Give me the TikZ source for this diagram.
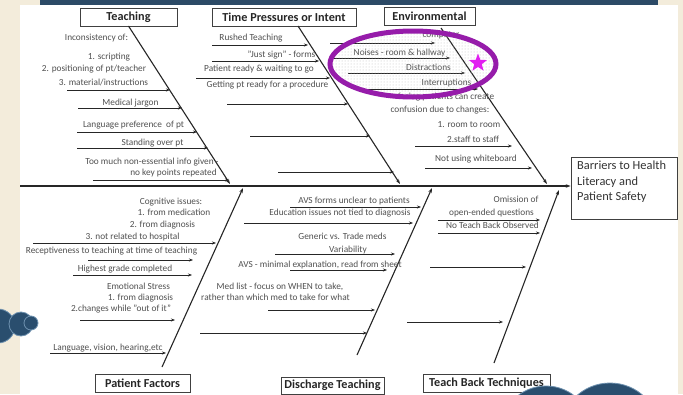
\documentclass[tikz,border=0pt]{standalone}
\usepackage{fontspec}
\setmainfont{Carlito}
\usetikzlibrary{arrows.meta,patterns,shapes.geometric}
\definecolor{bgbeige}{RGB}{243,236,219}
\definecolor{barblue}{RGB}{44,74,102}
\definecolor{circblue}{RGB}{42,78,110}
\definecolor{circrim}{RGB}{110,145,175}
\definecolor{txtgray}{RGB}{80,80,80}
\definecolor{ringpurple}{RGB}{150,28,170}
\definecolor{starpink}{RGB}{225,30,240}
\begin{document}
\begin{tikzpicture}[x=1pt,y=-1pt,
  catbox/.style={draw=black!75, line width=0.8pt, fill=white, font=\bfseries\fontsize{12.2}{14}\selectfont, text=black!85, inner sep=0pt},
  lbl/.style={font=\fontsize{9.3}{10}\selectfont, text=txtgray, inner sep=0pt, anchor=mid},
  arr/.style={draw=black!85, line width=0.6pt, -{Stealth[length=4pt,width=3pt]}},
  bone/.style={draw=black!85, line width=1.1pt, -{Stealth[length=5pt,width=3.5pt]}},
  deco/.style={fill=circblue, draw=circrim, line width=0.8pt}]
\useasboundingbox (0,0) rectangle (683,394);
\clip (0,0) rectangle (683,394);
% background
\fill[bgbeige] (0,0) rectangle (683,394);
\fill[white] (20,5) rectangle (678,394);
\fill[barblue] (40,0) rectangle (658,5);

% category boxes
\node[catbox, minimum width=97pt, minimum height=18pt] (teach) at (128.5,17) {Teaching};
\node[catbox, minimum width=144pt, minimum height=18pt] (time) at (284,17) {Time Pressures or Intent};
\node[catbox, minimum width=91pt, minimum height=18pt] (env) at (429.5,16) {Environmental};
\node[catbox, minimum width=95pt, minimum height=18pt] (pat) at (142.5,383) {Patient Factors};
\node[catbox, minimum width=103pt, minimum height=17pt] (dis) at (332.5,385.5) {Discharge Teaching};
\node[catbox, minimum width=127pt, minimum height=18pt] (tbk) at (486.5,383) {Teach Back Techniques};

% head box
\node[draw=black!75, line width=0.8pt, fill=white, minimum width=106pt, minimum height=62pt, inner sep=0pt] (head) at (624,188) {};
\node[font=\fontsize{12.4}{15.5}\selectfont, text=black!80, align=left, inner sep=0pt, anchor=north west] (headtxt) at (577,161) {Barriers to Health\\Literacy and\\Patient Safety};

% spine and bones
\coordinate (spL) at (20,186);
\draw[bone, line width=1.3pt] (spL) -- (spL -| head.west);
\coordinate (tbA) at (128.5,26); \coordinate (tbB) at (230,184);
\coordinate (tpA) at (298,26);   \coordinate (tpB) at (400,184);
\coordinate (evA) at (441,28);   \coordinate (evB) at (547,184);
\coordinate (pfA) at (162,367);  \coordinate (pfB) at (243,188);
\coordinate (dtA) at (357,355);  \coordinate (dtB) at (432,188);
\coordinate (tkA) at (494,363);  \coordinate (tkB) at (559,190);
\draw[bone] (tbA) -- (tbB);
\draw[bone] (tpA) -- (tpB);
\draw[bone] (evA) -- (evB);
\draw[bone] (pfA) -- (pfB);
\draw[bone] (dtA) -- (dtB);
\draw[bone] (tkA) -- (tkB);

% Teaching
\node[lbl] (a1) at (96.5,38) {Inconsistency of:};
\node[lbl] (a2) at (109,57) {1. scripting};
\node[lbl] (a3) at (94,69) {2. positioning of pt/teacher};
\node[lbl] (a4) at (103.5,83) {3. material/instructions};
\node[lbl] (a5) at (130.5,103) {Medical jargon};
\node[lbl] (a6) at (133.5,125) {Language preference \ of pt};
\node[lbl] (a7) at (152.5,143) {Standing over pt};
\node[lbl] (a8) at (152,162) {Too much non-essential info given -};
\node[lbl] (a9) at (173.5,173) {no key points repeated};
\draw[arr] (67,90) -- (170,90);
\draw[arr] (78,108) -- (182,108);
\draw[arr] (77,132) -- (197,132);
\draw[arr] (77,148) -- (208,148);
\draw[arr] (93,180) -- (229,180);

% Time pressures
\node[lbl] (b1) at (251,38) {Rushed Teaching};
\node[lbl] (b2) at (281.5,55) {"Just sign" - forms};
\node[lbl] (b3) at (259,69) {Patient ready \& waiting to go};
\node[lbl] (b4) at (267.5,85) {Getting pt ready for a procedure};
\draw[arr] (212,45) -- (308,45);
\draw[arr] (212,61) -- (319,61);
\draw[arr] (196,78) -- (330,78);
\draw[arr] (227,104) -- (348,104);
\draw[arr] (250,136) -- (370,136);
\draw[arr] (278,172) -- (394,172);

% Environmental
\node[lbl] (c0) at (441,35) {computer};
\node[lbl] (c1) at (399.5,53) {Noises - room \& hallway};
\node[lbl] (c2) at (428.5,68) {Distractions};
\node[lbl] (c3) at (446.5,83) {Interruptions};
\node[lbl] (c4) at (446,97) {facing patients can create};
\node[lbl] (c5) at (440,110) {confusion due to changes:};
\node[lbl] (c6) at (469,125) {1. room to room};
\node[lbl] (c7) at (473,140) {2.staff to staff};
\node[lbl] (c8) at (476,159) {Not using whiteboard};
\draw[arr] (330,43) -- (435,43);
\draw[arr] (332,58) -- (450,58);
\draw[arr] (348,73) -- (465,73);
\draw[arr] (362,89) -- (478,89);
\draw[arr] (415,146) -- (512,146);
\draw[arr] (425,168) -- (532,168);

% Patient factors
\node[lbl] (d1) at (171,202) {Cognitive issues:};
\node[lbl] (d2) at (174,213) {1. from medication};
\node[lbl] (d3) at (162.5,225) {2. from diagnosis};
\node[lbl] (d4) at (132.5,237) {3. not related to hospital};
\node[lbl] (d5) at (111.5,251) {Receptiveness to teaching at time of teaching};
\node[lbl] (d6) at (125,269) {Highest grade completed};
\node[lbl] (d7) at (138.5,287) {Emotional Stress};
\node[lbl] (d8) at (140.5,298) {1. from diagnosis};
\node[lbl] (d9) at (121,309) {2.changes while "out of it"};
\node[lbl] (d10) at (108,348) {Language, vision, hearing,etc};
\draw[arr] (33,243) -- (216,243);
\draw[arr] (88,260) -- (193,260);
\draw[arr] (73,275) -- (192,275);
\draw[arr] (80,320) -- (175,320);
\draw[arr] (50,353) -- (166,353);

% Discharge teaching
\node[lbl] (e1) at (354,201) {AVS forms unclear to patients};
\node[lbl] (e2) at (340,213) {Education issues not tied to diagnosis};
\node[lbl] (e3) at (342.5,237) {Generic vs. Trade meds};
\node[lbl] (e4) at (348,250) {Variability};
\node[lbl] (e5) at (320,265) {AVS - minimal explanation, read from sheet};
\node[lbl] (e6) at (280,287) {Med list - focus on WHEN to take,};
\node[lbl] (e7) at (275.5,298) {rather than which med to take for what};
\draw[arr] (290,207) -- (421,207);
\draw[arr] (244,223) -- (413,223);
\draw[arr] (275,254) -- (395,254);
\draw[arr] (290,270) -- (387,270);
\draw[arr] (268,310) -- (375,310);
\draw[arr] (200,333) -- (367,333);

% Teach back
\node[lbl] (f1) at (516,200) {Omission of};
\node[lbl] (f2) at (491.5,213) {open-ended questions};
\node[lbl] (f3) at (492.5,226) {No Teach Back Observed};
\draw[arr] (438,220) -- (540,220);
\draw[arr] (438,233) -- (540,233);
\draw[arr] (430,267) -- (526,267);
\draw[arr] (407,322) -- (503,322);

% highlight ellipse and star
\path[pattern=dots, pattern color=black!25] (413,64) ellipse [x radius=83, y radius=33];
\draw[ringpurple, line width=5pt] (413,64) ellipse [x radius=83, y radius=33];
\node[star, star points=5, star point ratio=2.4, fill=starpink, minimum size=19pt, inner sep=0pt] (star) at (478,63) {};

% decorative circles
\draw[deco] (-2,326) circle [radius=17];
\draw[deco] (21,324) circle [radius=12];
\draw[deco] (31,323) circle [radius=7];
\draw[deco] (546,432) circle [radius=46];
\draw[deco] (610,433) circle [radius=50];
\end{tikzpicture}
\end{document}
